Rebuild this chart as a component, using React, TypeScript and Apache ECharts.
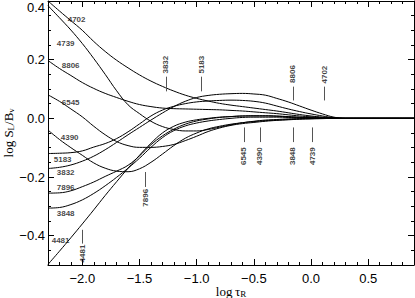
import React, { useEffect, useRef } from "react";
import * as echarts from "echarts";

// log tau_R grid
const tauGrid = [-2.3, -2.2, -2.1, -2.0, -1.9, -1.8, -1.7, -1.6, -1.5, -1.4, -1.3, -1.2, -1.1, -1.0, -0.9, -0.8, -0.7, -0.6, -0.5, -0.4, -0.3, -0.2, -0.1, 0.0, 0.1, 0.2, 0.3, 0.4, 0.5, 0.6, 0.7, 0.8, 0.9];

const s4702 = [0.400, 0.366, 0.333, 0.300, 0.262, 0.228, 0.198, 0.172, 0.148, 0.127, 0.109, 0.093, 0.079, 0.068, 0.059, 0.051, 0.045, 0.040, 0.035, 0.030, 0.025, 0.019, 0.013, 0.008, 0.004, 0.002, 0, 0, 0, 0, 0, 0, 0];
const s4739 = [0.384, 0.343, 0.301, 0.255, 0.204, 0.150, 0.094, 0.046, 0.016, -0.010, -0.028, -0.038, -0.043, -0.043, -0.038, -0.030, -0.022, -0.015, -0.010, -0.006, -0.004, -0.002, -0.001, 0, 0, 0, 0, 0, 0, 0, 0, 0, 0];
const s8806 = [0.197, 0.170, 0.146, 0.122, 0.102, 0.085, 0.071, 0.058, 0.047, 0.040, 0.035, 0.033, 0.032, 0.031, 0.030, 0.029, 0.027, 0.025, 0.022, 0.019, 0.016, 0.012, 0.008, 0.005, 0.003, 0.001, 0, 0, 0, 0, 0, 0, 0];
const s6545 = [0.080, 0.058, 0.032, 0.005, -0.027, -0.056, -0.079, -0.093, -0.099, -0.099, -0.096, -0.089, -0.076, -0.061, -0.045, -0.033, -0.024, -0.018, -0.014, -0.010, -0.007, -0.005, -0.003, -0.002, -0.001, 0, 0, 0, 0, 0, 0, 0, 0];
const s4390 = [-0.040, -0.072, -0.100, -0.126, -0.152, -0.170, -0.180, -0.182, -0.172, -0.150, -0.122, -0.093, -0.068, -0.050, -0.036, -0.027, -0.020, -0.015, -0.011, -0.008, -0.006, -0.004, -0.002, -0.001, 0, 0, 0, 0, 0, 0, 0, 0, 0];
const s5183 = [-0.120, -0.119, -0.117, -0.111, -0.098, -0.086, -0.069, -0.046, -0.019, 0.008, 0.028, 0.041, 0.050, 0.056, 0.059, 0.061, 0.062, 0.061, 0.058, 0.052, 0.042, 0.032, 0.023, 0.015, 0.008, 0.002, 0, 0, 0, 0, 0, 0, 0];
const s3832 = [-0.171, -0.167, -0.159, -0.146, -0.129, -0.107, -0.082, -0.056, -0.031, -0.006, 0.018, 0.040, 0.058, 0.071, 0.078, 0.082, 0.084, 0.085, 0.083, 0.079, 0.068, 0.056, 0.042, 0.028, 0.015, 0.004, 0, 0, 0, 0, 0, 0, 0];
const s7896 = [-0.255, -0.254, -0.247, -0.233, -0.217, -0.198, -0.180, -0.160, -0.128, -0.090, -0.060, -0.037, -0.020, -0.009, -0.002, 0.003, 0.006, 0.008, 0.009, 0.009, 0.008, 0.006, 0.004, 0.002, 0.001, 0, 0, 0, 0, 0, 0, 0, 0];
const s3848 = [-0.306, -0.304, -0.294, -0.278, -0.256, -0.230, -0.201, -0.170, -0.136, -0.099, -0.066, -0.042, -0.026, -0.016, -0.009, -0.004, 0.000, 0.003, 0.004, 0.004, 0.004, 0.003, 0.002, 0.001, 0, 0, 0, 0, 0, 0, 0, 0, 0];
const s4481 = [-0.498, -0.453, -0.407, -0.360, -0.312, -0.263, -0.216, -0.170, -0.126, -0.085, -0.050, -0.027, -0.013, -0.005, 0.000, 0.004, 0.006, 0.008, 0.008, 0.008, 0.007, 0.005, 0.003, 0.002, 0.001, 0, 0, 0, 0, 0, 0, 0, 0];

const curveNames = ["4702", "4739", "8806", "6545", "4390", "5183", "3832", "7896", "3848", "4481"];
const curveValues = [s4702, s4739, s8806, s6545, s4390, s5183, s3832, s7896, s3848, s4481];

// left-side curve labels (left edge x, centre y)
const leftLabelX = [-2.132, -2.228, -2.184, -2.184, -2.193, -2.254, -2.228, -2.228, -2.228, -2.272];
const leftLabelY = [0.336, 0.254, 0.180, 0.054, -0.064, -0.139, -0.183, -0.237, -0.325, -0.417];

// vertical markers
const markerNames = ["3832", "5183", "8806", "4702", "6545", "4390", "3848", "4739", "7896", "4481"];
const markerX = [-1.27, -0.956, -0.158, 0.114, -0.588, -0.447, -0.158, 0.009, -1.447, -2.0];
const markerLineY1 = [0.142, 0.142, 0.108, 0.108, -0.031, -0.031, -0.031, -0.031, -0.183, -0.380];
const markerLineY2 = [0.092, 0.092, 0.061, 0.061, -0.081, -0.081, -0.081, -0.081, -0.234, -0.427];
const markerTextY = [0.183, 0.183, 0.151, 0.149, -0.129, -0.129, -0.129, -0.129, -0.271, -0.461];

// ticks
const xMajorTicks = [-2.0, -1.5, -1.0, -0.5, 0.0, 0.5];
const xMinorTicks = [-2.2, -2.1, -1.9, -1.8, -1.7, -1.6, -1.4, -1.3, -1.2, -1.1, -0.9, -0.8, -0.7, -0.6, -0.4, -0.3, -0.2, -0.1, 0.1, 0.2, 0.3, 0.4, 0.6, 0.7, 0.8];
const yMajorTicks = [-0.4, -0.2, 0.0, 0.2, 0.4];
const yMinorTicks = [-0.45, -0.35, -0.3, -0.25, -0.15, -0.1, -0.05, 0.05, 0.1, 0.15, 0.25, 0.3, 0.35];

const fmt = (v: number) => {
  const s = Math.abs(v).toFixed(1);
  return v < -1e-9 ? "\u2212" + s : s;
};

const AXIS_COLOR = "#000";
const TICK_FONT = "Liberation Sans";
const SERIF = "Liberation Serif";

export default function App() {
  const ref = useRef<HTMLDivElement>(null);
  useEffect(() => {
    if (!ref.current) return;
    const chart = echarts.init(ref.current, undefined, { renderer: "svg" });

    const xBase = { type: "value", min: -2.3, max: 0.9, splitLine: { show: false } } as any;
    const yBase = { type: "value", min: -0.5, max: 0.4, splitLine: { show: false } } as any;

    const nameRich = {
      a: { fontFamily: SERIF, fontSize: 13, color: "#000", lineHeight: 14 },
      s: { fontFamily: SERIF, fontSize: 9, color: "#000", lineHeight: 8, verticalAlign: "bottom" },
    };

    const xAxes = [
      {
        ...xBase,
        position: "bottom",
        axisLine: { show: true, onZero: false, lineStyle: { color: AXIS_COLOR, width: 1 } },
        axisTick: { show: true, inside: true, length: 6, customValues: xMajorTicks, lineStyle: { color: AXIS_COLOR } },
        axisLabel: { show: true, customValues: xMajorTicks, formatter: fmt, margin: 7, color: "#000", fontFamily: TICK_FONT, fontSize: 13 },
        name: "{a|log\u2009\u03c4}{s|R}",
        nameLocation: "middle",
        nameGap: 19,
        nameMoveOverlap: false,
        nameTextStyle: { rich: nameRich },
      },
      {
        ...xBase,
        position: "bottom",
        axisLine: { show: false, onZero: false },
        axisTick: { show: true, inside: true, length: 3, customValues: xMinorTicks, lineStyle: { color: AXIS_COLOR } },
        axisLabel: { show: false },
      },
      {
        ...xBase,
        position: "top",
        axisLine: { show: true, onZero: false, lineStyle: { color: AXIS_COLOR, width: 1 } },
        axisTick: { show: true, inside: true, length: 6, customValues: xMajorTicks, lineStyle: { color: AXIS_COLOR } },
        axisLabel: { show: false },
      },
      {
        ...xBase,
        position: "top",
        axisLine: { show: false, onZero: false },
        axisTick: { show: true, inside: true, length: 3, customValues: xMinorTicks, lineStyle: { color: AXIS_COLOR } },
        axisLabel: { show: false },
      },
    ];

    const yAxes = [
      {
        ...yBase,
        position: "left",
        axisLine: { show: true, onZero: false, lineStyle: { color: AXIS_COLOR, width: 1 } },
        axisTick: { show: true, inside: true, length: 6, customValues: yMajorTicks, lineStyle: { color: AXIS_COLOR } },
        axisLabel: { show: true, customValues: yMajorTicks, formatter: fmt, margin: 3, color: "#000", fontFamily: TICK_FONT, fontSize: 13, verticalAlignMaxLabel: "top" },
        name: "{a|log S}{s|L}{a|/B}{s|\u03bd}",
        nameLocation: "middle",
        nameGap: 33,
        nameMoveOverlap: false,
        nameTextStyle: { rich: nameRich },
      },
      {
        ...yBase,
        position: "left",
        axisLine: { show: false, onZero: false },
        axisTick: { show: true, inside: true, length: 3, customValues: yMinorTicks, lineStyle: { color: AXIS_COLOR } },
        axisLabel: { show: false },
      },
      {
        ...yBase,
        position: "right",
        axisLine: { show: true, onZero: false, lineStyle: { color: AXIS_COLOR, width: 1 } },
        axisTick: { show: true, inside: true, length: 6, customValues: yMajorTicks, lineStyle: { color: AXIS_COLOR } },
        axisLabel: { show: false },
      },
      {
        ...yBase,
        position: "right",
        axisLine: { show: false, onZero: false },
        axisTick: { show: true, inside: true, length: 3, customValues: yMinorTicks, lineStyle: { color: AXIS_COLOR } },
        axisLabel: { show: false },
      },
    ];

    const curveSeries = curveNames.map((name, i) => ({
      type: "line",
      name,
      data: tauGrid.map((x, j) => [x, curveValues[i][j]]),
      smooth: 0.4,
      showSymbol: false,
      symbol: "none",
      silent: true,
      lineStyle: { color: "#000", width: 1 },
      z: 3,
    }));

    const labelText = {
      fontFamily: TICK_FONT,
      fontSize: 8,
      fontWeight: "bold",
      color: "#111",
      textBorderWidth: 0,
      textBorderColor: "transparent",
      textShadowBlur: 0,
    };

    const leftLabels = {
      type: "scatter",
      silent: true,
      symbol: "circle",
      symbolSize: 1,
      itemStyle: { color: "rgba(0,0,0,0)" },
      data: curveNames.map((n, i) => [leftLabelX[i], leftLabelY[i], n]),
      label: {
        show: true,
        position: "right",
        distance: 0,
        formatter: (p: any) => p.value[2],
        ...labelText,
      },
      z: 5,
    };

    const markerLines = {
      type: "lines",
      coordinateSystem: "cartesian2d",
      silent: true,
      polyline: false,
      data: markerNames.map((_, i) => ({ coords: [[markerX[i], markerLineY1[i]], [markerX[i], markerLineY2[i]]] })),
      lineStyle: { color: "#555", width: 1, opacity: 1 },
      z: 4,
    };

    const markerTexts = {
      type: "scatter",
      silent: true,
      symbol: "circle",
      symbolSize: 1,
      itemStyle: { color: "rgba(0,0,0,0)" },
      data: markerNames.map((n, i) => [markerX[i], markerTextY[i], n]),
      label: {
        show: true,
        position: "inside",
        rotate: 90,
        formatter: (p: any) => p.value[2],
        ...labelText,
      },
      z: 5,
    };

    chart.setOption({
      animation: false,
      backgroundColor: "#fff",
      grid: { left: 48, right: 1, top: 1, bottom: 33, containLabel: false, outerBoundsMode: "none" },
      xAxis: xAxes,
      yAxis: yAxes,
      series: [...curveSeries, leftLabels, markerLines, markerTexts],
    } as any);

    return () => chart.dispose();
  }, []);

  return (
    <div
      ref={ref}
      style={{ position: "fixed", left: 0, top: 0, width: 415, height: 298, background: "#fff" }}
    />
  );
}
